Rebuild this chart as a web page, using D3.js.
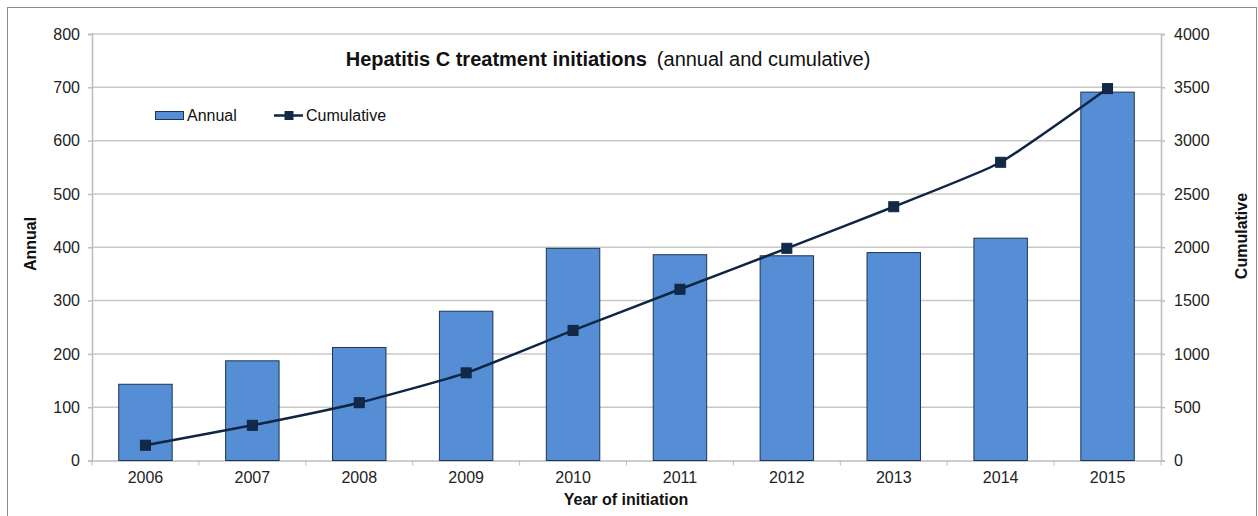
<!DOCTYPE html>
<html>
<head>
<meta charset="utf-8">
<script src="https://cdn.jsdelivr.net/npm/d3@7"></script>
<style>
	body { margin: 0; background: #fff; }
	svg { font-family: "Liberation Sans", Arial, sans-serif; }
</style>
</head>
<body>
<div id="chart"></div>
<script>
const years = ["2006", "2007", "2008", "2009", "2010", "2011", "2012", "2013", "2014", "2015"];
const annual = [143, 187, 212, 280, 398, 386, 384, 390, 417, 691];
const cumulative = [143, 330, 542, 822, 1220, 1606, 1990, 2380, 2797, 3488];
const leftTicks = [0, 100, 200, 300, 400, 500, 600, 700, 800];
const rightTicks = [0, 500, 1000, 1500, 2000, 2500, 3000, 3500, 4000];

const width = 1258, height = 516;
const plot = { left: 92, right: 1161, top: 34, bottom: 460.5 };

const svg = d3.select("#chart")
	.append("svg")
	.attr("width", width)
	.attr("height", height)

// outer frame
svg.append("rect")
	.attr("x", 7.5).attr("y", 7.5)
	.attr("width", 1249).attr("height", 520)
	.attr("fill", "none")
	.attr("stroke", "#8c8c8c")
	.attr("stroke-width", 1)

const x = d3.scaleBand()
	.domain(years)
	.range([plot.left, plot.right])
	.paddingInner(0.5)
	.paddingOuter(0.25)

const yL = d3.scaleLinear().domain([0, 800]).range([plot.bottom, plot.top])
const yR = d3.scaleLinear().domain([0, 4000]).range([plot.bottom, plot.top])

// gridlines
svg.append("g")
	.selectAll("line")
	.data(leftTicks.slice(1))
	.enter()
	.append("line")
	.attr("x1", plot.left).attr("x2", plot.right)
	.attr("y1", d => yL(d)).attr("y2", d => yL(d))
	.attr("stroke", "#c8c8c8")
	.attr("stroke-width", 1.5)

// left axis
const leftAxis = svg.append("g")
	.attr("transform", `translate(${plot.left},0)`)
	.call(d3.axisLeft(yL).tickValues(leftTicks).tickFormat(d3.format("d")).tickSize(4).tickPadding(8))
leftAxis.selectAll("text").attr("font-size", 16).attr("fill", "#222")

// right axis
const rightAxis = svg.append("g")
	.attr("transform", `translate(${plot.right},0)`)
	.call(d3.axisRight(yR).tickValues(rightTicks).tickFormat(d3.format("d")).tickSize(4).tickPadding(9))
rightAxis.selectAll("text").attr("font-size", 16).attr("fill", "#222")

// bottom axis, ticks on category boundaries
const bottomAxis = svg.append("g")
	.attr("transform", `translate(0,${plot.bottom})`)
	.call(d3.axisBottom(x).tickSize(0).tickPadding(11))
bottomAxis.selectAll("text").attr("font-size", 16).attr("fill", "#222")
bottomAxis.selectAll(".boundary")
	.data(d3.range(years.length + 1))
	.enter()
	.append("line")
	.attr("x1", i => plot.left + i * x.step())
	.attr("x2", i => plot.left + i * x.step())
	.attr("y1", 0).attr("y2", 5)
	.attr("stroke", "#bdbdbd")

svg.selectAll(".domain, .tick line")
	.attr("stroke", "#bdbdbd")
	.attr("stroke-width", 1.5)

// bars
svg.append("g")
	.selectAll("rect")
	.data(annual)
	.enter()
	.append("rect")
	.attr("x", (d, i) => x(years[i]))
	.attr("y", d => yL(d))
	.attr("width", x.bandwidth())
	.attr("height", d => yL(0) - yL(d))
	.attr("fill", "#558ed5")
	.attr("stroke", "#1c3553")
	.attr("stroke-width", 1)

// cumulative line
const line = d3.line()
	.x((d, i) => x(years[i]) + x.bandwidth() / 2)
	.y(d => yR(d))
	.curve(d3.curveCardinal.tension(0.5))

svg.append("path")
	.datum(cumulative)
	.attr("d", line)
	.attr("fill", "none")
	.attr("stroke", "#0f2544")
	.attr("stroke-width", 2.5)

const mk = 10;
svg.append("g")
	.selectAll("rect")
	.data(cumulative)
	.enter()
	.append("rect")
	.attr("x", (d, i) => x(years[i]) + x.bandwidth() / 2 - mk / 2)
	.attr("y", d => yR(d) - mk / 2)
	.attr("width", mk)
	.attr("height", mk)
	.attr("fill", "#12294a")
	.attr("stroke", "#0f2544")

// title
const title = svg.append("text")
	.attr("x", 608)
	.attr("y", 66)
	.attr("text-anchor", "middle")
	.attr("font-size", 20)
	.attr("fill", "#111")
title.append("tspan").attr("font-weight", "bold").text("Hepatitis C treatment initiations")
title.append("tspan").attr("dx", 10).text("(annual and cumulative)")

// legend
const legend = svg.append("g")
legend.append("rect")
	.attr("x", 155.5).attr("y", 111.5)
	.attr("width", 28).attr("height", 8)
	.attr("fill", "#558ed5")
	.attr("stroke", "#1c3553")
legend.append("text")
	.attr("x", 187).attr("y", 121)
	.attr("font-size", 16).attr("fill", "#111")
	.text("Annual")
legend.append("line")
	.attr("x1", 274).attr("x2", 303)
	.attr("y1", 115.5).attr("y2", 115.5)
	.attr("stroke", "#0f2544").attr("stroke-width", 2.5)
legend.append("rect")
	.attr("x", 284.5).attr("y", 111)
	.attr("width", 9).attr("height", 9)
	.attr("fill", "#12294a")
legend.append("text")
	.attr("x", 306).attr("y", 121)
	.attr("font-size", 16).attr("fill", "#111")
	.text("Cumulative")

// axis titles
svg.append("text")
	.attr("transform", "translate(36,244) rotate(-90)")
	.attr("text-anchor", "middle")
	.attr("font-size", 16).attr("font-weight", "bold").attr("fill", "#111")
	.text("Annual")
svg.append("text")
	.attr("transform", "translate(1247,236) rotate(-90)")
	.attr("text-anchor", "middle")
	.attr("font-size", 16).attr("font-weight", "bold").attr("fill", "#111")
	.text("Cumulative")
svg.append("text")
	.attr("x", 626).attr("y", 505)
	.attr("text-anchor", "middle")
	.attr("font-size", 16).attr("font-weight", "bold").attr("fill", "#111")
	.text("Year of initiation")
</script>
</body>
</html>
